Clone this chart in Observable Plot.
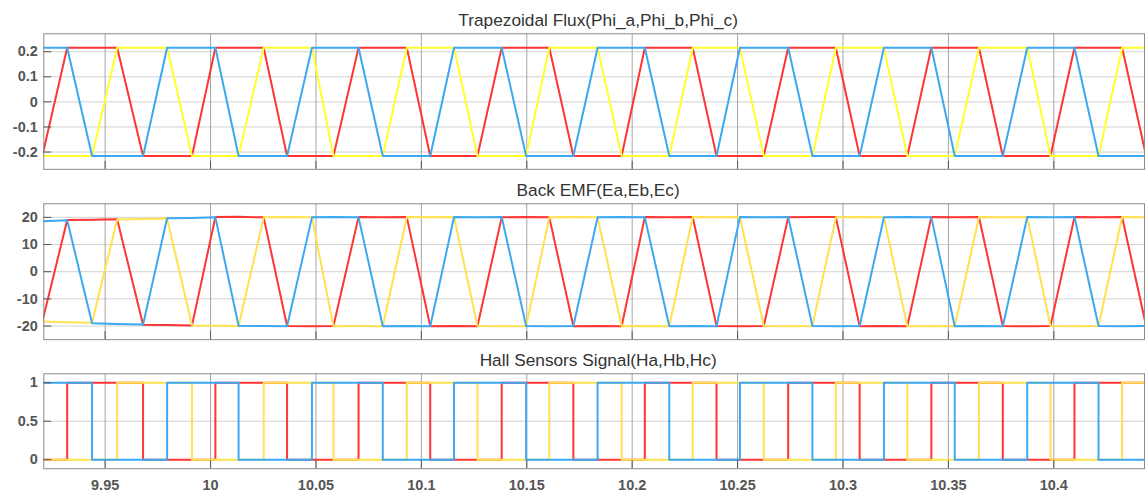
<!DOCTYPE html>
<html><head><meta charset="utf-8">
<script src="https://cdn.jsdelivr.net/npm/d3@7"></script>
<script src="https://cdn.jsdelivr.net/npm/@observablehq/plot@0.6"></script>
<style>
html,body{margin:0;padding:0;background:#fff;overflow:hidden;width:1145px;height:491px}
svg{display:block}
</style>
</head><body><div id="chart"></div>
<script>
// Corner times (s) where one phase finishes its ramp
const cornerT = [9.9202,
  9.9320, 9.9438, 9.9557, 9.9680, 9.9794, 9.9912,
  10.0023, 10.0133, 10.0252, 10.0363, 10.0481, 10.0583,
  10.0702, 10.0817, 10.0931, 10.1042, 10.1155, 10.1266,
  10.1381, 10.1497, 10.1607, 10.1721, 10.1836, 10.1950,
  10.2060, 10.2176, 10.2287, 10.2400, 10.2511, 10.2624,
  10.2740, 10.2855, 10.2966, 10.3079, 10.3194, 10.3305,
  10.3419, 10.3530, 10.3645, 10.3758, 10.3874, 10.3984,
  10.4098, 10.4212, 10.4324, 10.4438];

const fluxA = [-0.216,
  0.216, 0.216, 0.216, -0.216, -0.216, -0.216,
  0.216, 0.216, 0.216, -0.216, -0.216, -0.216,
  0.216, 0.216, 0.216, -0.216, -0.216, -0.216,
  0.216, 0.216, 0.216, -0.216, -0.216, -0.216,
  0.216, 0.216, 0.216, -0.216, -0.216, -0.216,
  0.216, 0.216, 0.216, -0.216, -0.216, -0.216,
  0.216, 0.216, 0.216, -0.216, -0.216, -0.216,
  0.216, 0.216, 0.216, -0.216];
const fluxB = [0.216,
  0.216, -0.216, -0.216, -0.216, 0.216, 0.216,
  0.216, -0.216, -0.216, -0.216, 0.216, 0.216,
  0.216, -0.216, -0.216, -0.216, 0.216, 0.216,
  0.216, -0.216, -0.216, -0.216, 0.216, 0.216,
  0.216, -0.216, -0.216, -0.216, 0.216, 0.216,
  0.216, -0.216, -0.216, -0.216, 0.216, 0.216,
  0.216, -0.216, -0.216, -0.216, 0.216, 0.216,
  0.216, -0.216, -0.216, -0.216];
const fluxC = [-0.216,
  -0.216, -0.216, 0.216, 0.216, 0.216, -0.216,
  -0.216, -0.216, 0.216, 0.216, 0.216, -0.216,
  -0.216, -0.216, 0.216, 0.216, 0.216, -0.216,
  -0.216, -0.216, 0.216, 0.216, 0.216, -0.216,
  -0.216, -0.216, 0.216, 0.216, 0.216, -0.216,
  -0.216, -0.216, 0.216, 0.216, 0.216, -0.216,
  -0.216, -0.216, 0.216, 0.216, 0.216, -0.216,
  -0.216, -0.216, 0.216, 0.216];

const emfA = [-18.4,
  19.0, 19.1, 19.3, -19.5, -19.6, -19.8,
  20.1, 20.2, 20.0, -20.0, -20.1, -20.0,
  20.1, 20.0, 20.1, -20.1, -20.0, -20.1,
  20.0, 20.1, 20.0, -20.1, -20.0, -20.1,
  20.1, 20.0, 20.1, -20.0, -20.1, -20.0,
  20.0, 20.1, 20.1, -20.1, -20.0, -20.1,
  20.1, 20.0, 20.1, -20.0, -20.1, -20.0,
  20.1, 20.0, 20.1, -20.0];
const emfB = [18.6,
  18.9, -19.0, -19.2, -19.4, 19.7, 19.8,
  20.0, -19.9, -20.0, -20.1, 20.0, 20.1,
  20.0, -20.1, -20.0, -20.1, 20.1, 20.0,
  20.1, -20.0, -20.1, -20.0, 20.0, 20.1,
  20.0, -20.1, -20.0, -20.1, 20.1, 20.0,
  20.1, -20.0, -20.1, -20.0, 20.0, 20.1,
  20.0, -20.1, -20.0, -20.1, 20.1, 20.0,
  20.1, -20.0, -20.1, -20.0];
const emfC = [-18.3,
  -18.6, -18.8, 19.2, 19.4, 19.6, -19.8,
  -19.9, -20.0, 20.0, 20.1, 20.0, -20.1,
  -20.0, -20.1, 20.1, 20.0, 20.1, -20.0,
  -20.1, -20.0, 20.0, 20.1, 20.0, -20.1,
  -20.0, -20.1, 20.1, 20.0, 20.1, -20.0,
  -20.1, -20.0, 20.0, 20.1, 20.0, -20.1,
  -20.0, -20.1, 20.1, 20.0, 20.1, -20.0,
  -20.1, -20.0, 20.1, 20.0];

const hallA = [0,
  1, 1, 1, 0, 0, 0,  1, 1, 1, 0, 0, 0,  1, 1, 1, 0, 0, 0,
  1, 1, 1, 0, 0, 0,  1, 1, 1, 0, 0, 0,  1, 1, 1, 0, 0, 0,
  1, 1, 1, 0, 0, 0,  1, 1, 1, 0];
const hallB = [1,
  1, 0, 0, 0, 1, 1,  1, 0, 0, 0, 1, 1,  1, 0, 0, 0, 1, 1,
  1, 0, 0, 0, 1, 1,  1, 0, 0, 0, 1, 1,  1, 0, 0, 0, 1, 1,
  1, 0, 0, 0, 1, 1,  1, 0, 0, 0];
const hallC = [0,
  0, 0, 1, 1, 1, 0,  0, 0, 1, 1, 1, 0,  0, 0, 1, 1, 1, 0,
  0, 0, 1, 1, 1, 0,  0, 0, 1, 1, 1, 0,  0, 0, 1, 1, 1, 0,
  0, 0, 1, 1, 1, 0,  0, 0, 1, 1];

const titles = ["Trapezoidal Flux(Phi_a,Phi_b,Phi_c)", "Back EMF(Ea,Eb,Ec)", "Hall Sensors Signal(Ha,Hb,Hc)"];
const xTicks = [9.95, 10, 10.05, 10.1, 10.15, 10.2, 10.25, 10.3, 10.35, 10.4];
const fluxTicks = [-0.2, -0.1, 0, 0.1, 0.2];
const emfTicks = [-20, -10, 0, 10, 20];
const hallTicks = [0, 0.5, 1];
const xDomain = [9.9209, 10.443];

const RED = "#ff3434", BLUE = "#3aa9f2", YEL1 = "#ffff2a", YEL2 = "#ffe24d";
const fmt = d => String(+d.toFixed(2));

function rows(vals) { return cornerT.map((t, i) => ({t, v: vals[i]})); }

function panel({title, series, colors, yDomain, yTicks, height, marginBottom, showX, curve}) {
  const lines = series.map((vals, i) => Plot.line(rows(vals), {
    x: "t", y: "v", stroke: colors[i], strokeWidth: 2, curve, clip: true
  }));
  return Plot.plot({
    width: 1146, height,
    marginLeft: 43.3, marginRight: 1, marginTop: 33.3, marginBottom,
    x: {domain: xDomain, label: null},
    y: {domain: yDomain, label: null},
    style: {fontFamily: "'Liberation Sans', Arial, sans-serif", fontSize: "14.5px", color: "#555", background: "#fff", overflow: "visible"},
    marks: [
      Plot.gridY(yTicks, {stroke: "#d2d2d2", strokeOpacity: 1}),
      Plot.gridX(xTicks, {stroke: "#a6a6a6", strokeOpacity: 1}),
      ...lines,
      Plot.frame({stroke: "#8a8a8a"}),
      Plot.axisY(yTicks, {anchor: "left", label: null, tickSize: -8, tickPadding: 14, tickFormat: fmt, fontWeight: "bold", fill: "#555"}),
      Plot.axisX(xTicks, {anchor: "bottom", label: null, tickSize: -8, tickPadding: 19, tickFormat: showX ? fmt : () => "", fontWeight: "bold", fill: "#555"}),
      Plot.text([title], {text: d => d, frameAnchor: "top", lineAnchor: "middle", dy: -13, dx: 4, fontSize: 17.3, fill: "#333", fontWeight: "normal"})
    ]
  });
}

const root = document.getElementById("chart");
root.append(panel({title: titles[0], series: [fluxA, fluxC, fluxB], colors: [RED, YEL1, BLUE],
  yDomain: [-0.269, 0.2715], yTicks: fluxTicks, height: 170, marginBottom: 1, showX: false, curve: "linear"}));
root.append(panel({title: titles[1], series: [emfA, emfC, emfB], colors: [RED, YEL2, BLUE],
  yDomain: [-25, 25], yTicks: emfTicks, height: 170, marginBottom: 0.7, showX: false, curve: "linear"}));
root.append(panel({title: titles[2], series: [hallA, hallC, hallB], colors: [RED, YEL2, BLUE],
  yDomain: [-0.117, 1.117], yTicks: hallTicks, height: 151, marginBottom: 22.7, showX: true, curve: "step-after"}));
</script>
</body></html>
